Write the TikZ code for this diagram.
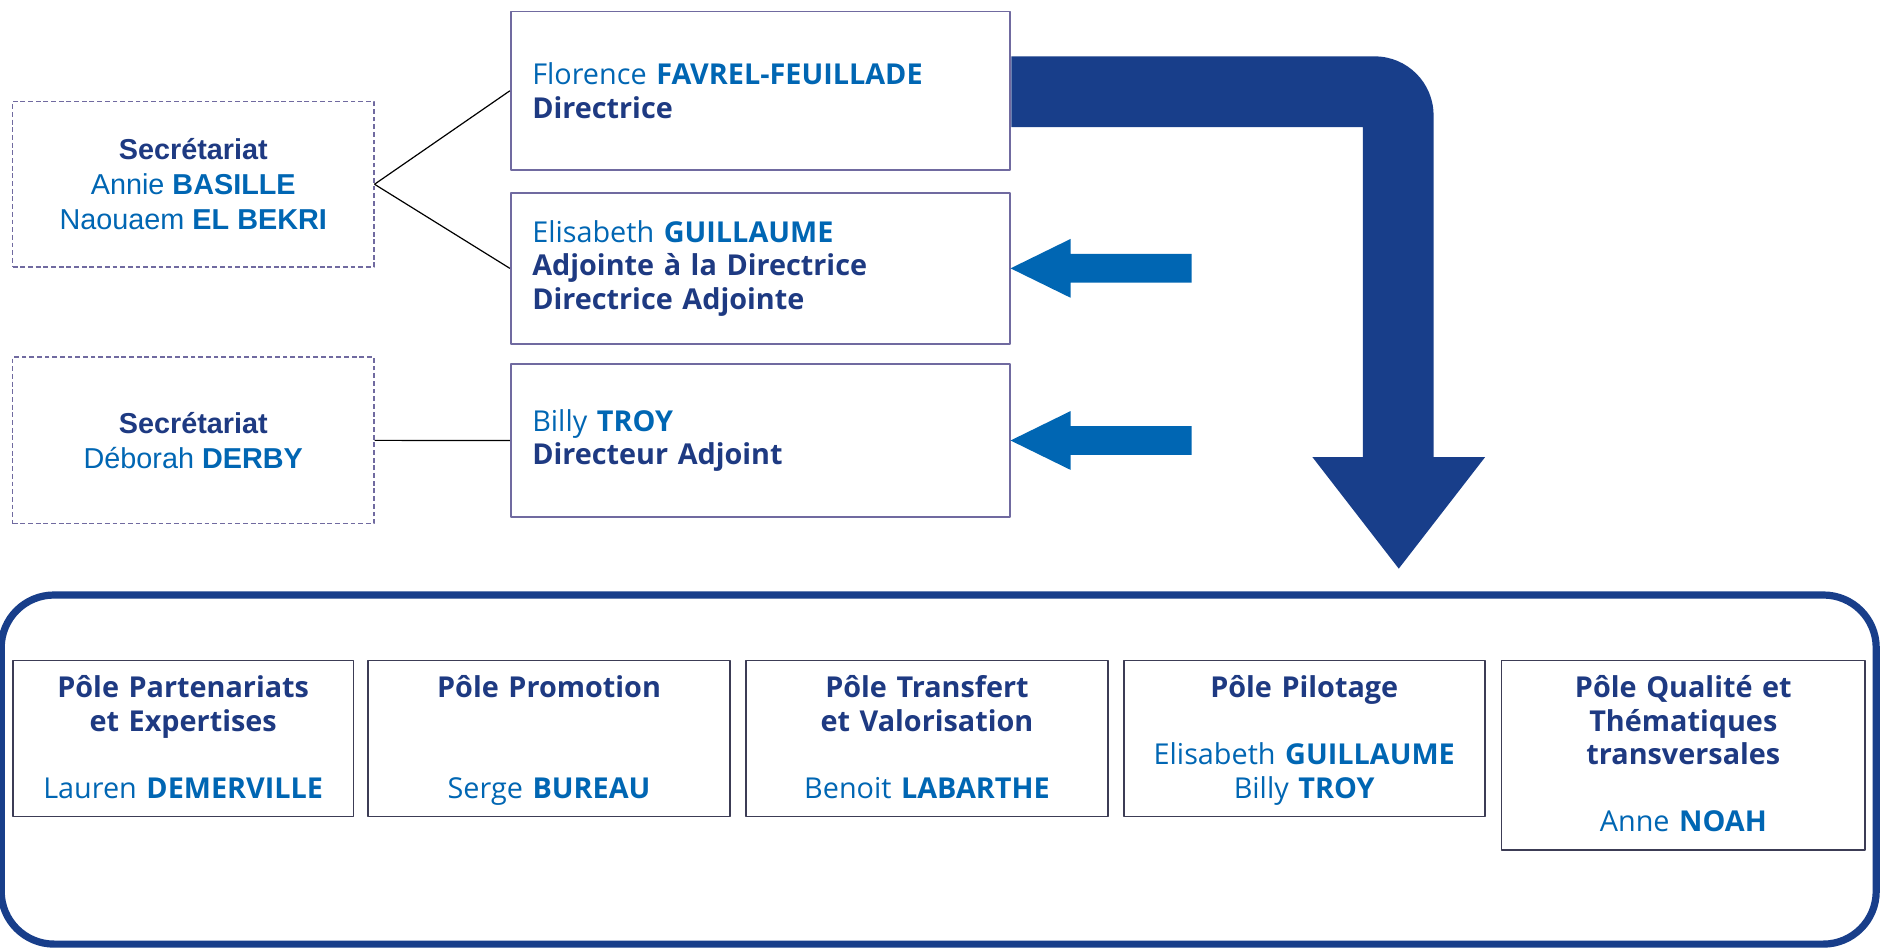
\documentclass[tikz,border=0pt]{standalone}
\usepackage{fontspec}
\setmainfont{Open Sans}
\newfontfamily\arialfont{Liberation Sans}
\definecolor{nameblue}{RGB}{0,102,179}
\definecolor{titlenavy}{RGB}{30,58,130}
\definecolor{bignavy}{RGB}{24,62,138}
\definecolor{boxpurple}{RGB}{112,106,160}
\definecolor{poleborder}{RGB}{60,60,85}
\newcommand\pname[2]{{\color{nameblue}\mdseries#1 \textbf{#2}}}
\begin{document}
\begin{tikzpicture}[x=0.5pt, y=-0.5pt, line join=round,
	head/.style={draw=boxpurple, line width=0.7pt, anchor=north west, align=left, inner xsep=9pt, text width=190pt, font=\fontsize{12}{14}\selectfont, text=titlenavy},
	secbox/.style={draw=boxpurple, dash pattern=on 2pt off 1.2pt, line width=0.6pt, anchor=north west, align=center, minimum width=150.5pt, font=\arialfont\fontsize{12}{14.5}\selectfont, text=titlenavy},
	pole/.style={draw=poleborder, line width=0.7pt, anchor=north west, align=center, inner xsep=0pt, font=\bfseries\fontsize{12}{14}\selectfont, text=titlenavy, execute at begin node=\rule{0pt}{12pt}, execute at end node=\strut},
	link/.style={black, line width=0.5pt},
	inarrow/.style={fill=nameblue}]
	\path[fill=white, use as bounding box] (0,0) rectangle (1568,790);
	\node[secbox, minimum height=69pt] (sec1) at (10,84) {\textbf{Secrétariat}\\ \pname{Annie}{BASILLE}\\ \pname{Naouaem}{EL BEKRI}};
	\node[secbox, minimum height=69.5pt] (sec2) at (10,297) {\textbf{Secrétariat}\\ \pname{Déborah}{DERBY}};
	\node[head, minimum height=66pt] (flo) at (425,9) {\pname{Florence}{FAVREL-FEUILLADE}\\ \textbf{Directrice}};
	\node[head, minimum height=63pt] (eli) at (425,160) {\pname{Elisabeth}{GUILLAUME}\\ \textbf{Adjointe à la Directrice}\\ \textbf{Directrice Adjointe}};
	\node[head, minimum height=63.5pt] (troy) at (425,303) {\pname{Billy}{TROY}\\ \textbf{Directeur Adjoint}};
	\draw[link] (sec1.east) -- (flo.west);
	\draw[link] (sec1.east) -- (eli.west);
	\draw[link] (sec2.east) -- (troy.west);
	\foreach \n in {eli,troy} \fill[inarrow] (\n.east) -- ++(50,-24.5) -- ++(0,12.5) -- ++(101,0) -- ++(0,24) -- ++(-101,0) -- ++(0,12.5) -- cycle;
	\fill[bignavy] (843,47) -- (1146,47) .. controls (1173,47) and (1195,69) .. (1195,96) -- (1195,381) -- (1238,381) -- (1166,474) -- (1094,381) -- (1136,381) -- (1136,106) -- (843,106) -- cycle;
	\draw[bignavy, line width=3pt, rounded corners=22pt] (1,496) rectangle (1564,787);
	\node[pole, text width=142pt, minimum height=65pt] (p1) at (10,550) {Pôle Partenariats\\ et Expertises\\[14pt] \pname{Lauren}{DEMERVILLE}};
	\node[pole, text width=151pt, minimum height=65pt] (p2) at (306,550) {Pôle Promotion\\[28pt] \pname{Serge}{BUREAU}};
	\node[pole, text width=151pt, minimum height=65pt] (p3) at (621,550) {Pôle Transfert\\ et Valorisation\\[14pt] \pname{Benoit}{LABARTHE}};
	\node[pole, text width=150.5pt, minimum height=65pt] (p4) at (936,550) {Pôle Pilotage\\[14pt] \pname{Elisabeth}{GUILLAUME}\\ \pname{Billy}{TROY}};
	\node[pole, text width=151.5pt, minimum height=78.5pt] (p5) at (1251,550) {Pôle Qualité et\\ Thématiques\\ transversales\\[14pt] \pname{Anne}{NOAH}};
\end{tikzpicture}
\end{document}
